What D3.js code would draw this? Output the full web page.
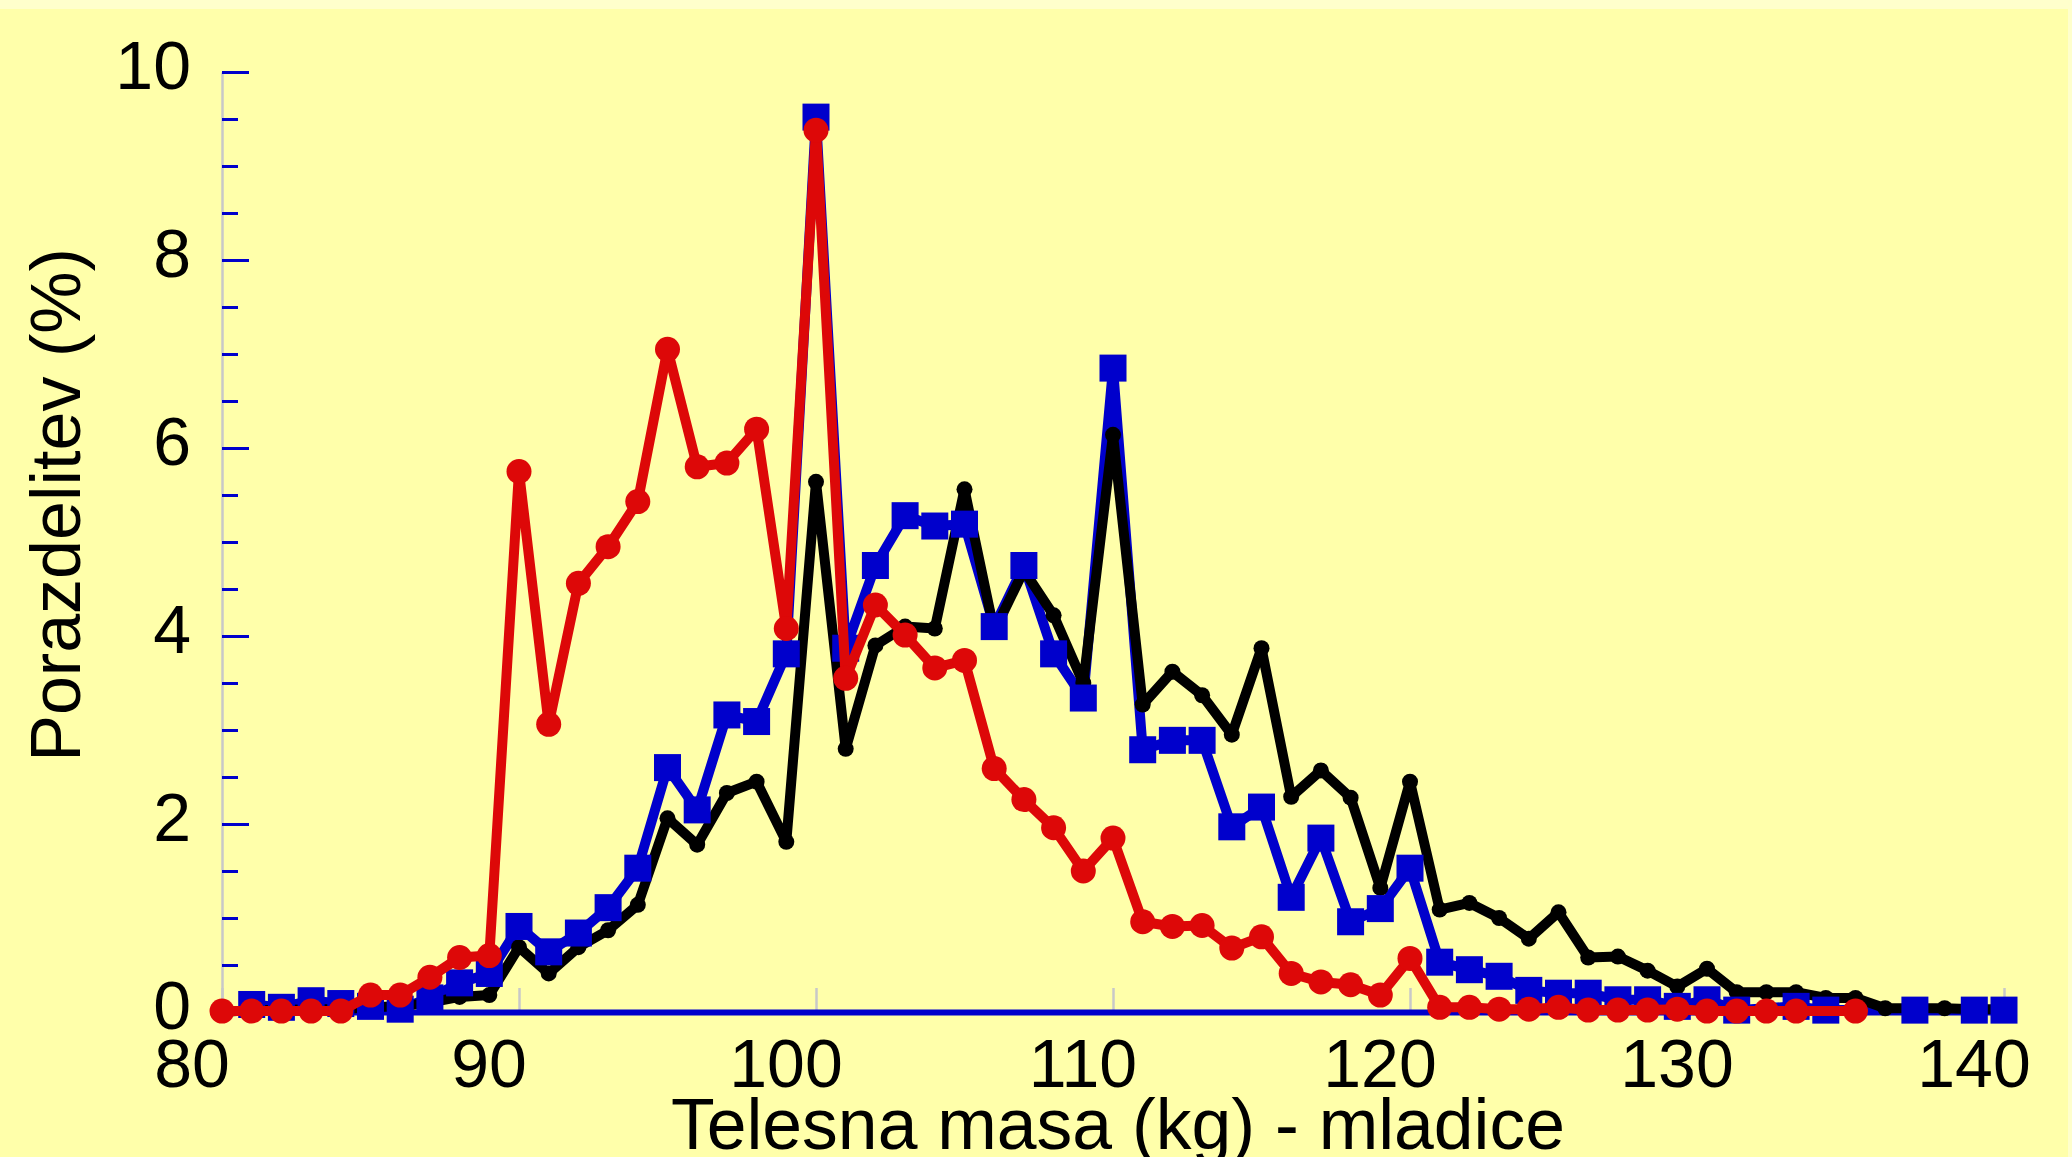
<!DOCTYPE html>
<html>
<head>
<meta charset="utf-8">
<script src="https://cdn.jsdelivr.net/npm/d3@7/dist/d3.min.js"></script>
<style>
  html, body { margin: 0; padding: 0; background: #ffffaa; overflow: hidden; }
  svg { display: block; }
  text { font-family: "Liberation Sans", Arial, Helvetica, sans-serif; fill: #000; }
</style>
</head>
<body>
<div id="chart_container"></div>
<script>
// body mass (kg) on the x axis
var masses = [80, 81, 82, 83, 84, 85, 86, 87, 88, 89,
  90, 91, 92, 93, 94, 95, 96, 97, 98, 99,
  100, 101, 102, 103, 104, 105, 106, 107, 108, 109,
  110, 111, 112, 113, 114, 115, 116, 117, 118, 119,
  120, 121, 122, 123, 124, 125, 126, 127, 128, 129,
  130, 131, 132, 133, 134, 135, 136, 137, 138, 139, 140];

// distribution (%) - black line with small dots
var blackValues = [0, 0.02, 0.02, 0.03, 0.03, 0.05, 0.06, 0.1, 0.16, 0.18,
  0.69, 0.41, 0.69, 0.87, 1.14, 2.06, 1.78, 2.33, 2.45, 1.81,
  5.64, 2.8, 3.9, 4.1, 4.08, 5.56, 4.05, 4.7, 4.22, 3.5,
  6.14, 3.27, 3.62, 3.37, 2.95, 3.87, 2.29, 2.57, 2.28, 1.32,
  2.45, 1.09, 1.16, 1.0, 0.78, 1.06, 0.58, 0.59, 0.44, 0.27,
  0.46, 0.21, 0.21, 0.21, 0.15, 0.15, 0.04, 0.04, 0.04, 0.03, 0.03];

// blue line with squares (null = no point)
var blueValues = [null, 0.08, 0.05, 0.12, 0.09, 0.06, 0.03, 0.15, 0.31, 0.41,
  0.91, 0.64, 0.84, 1.11, 1.53, 2.6, 2.15, 3.16, 3.09, 3.81,
  9.52, 3.87, 4.75, 5.28, 5.17, 5.19, 4.1, 4.75, 3.81, 3.34,
  6.85, 2.79, 2.89, 2.89, 1.97, 2.18, 1.22, 1.85, 0.96, 1.1,
  1.53, 0.53, 0.45, 0.38, 0.23, 0.2, 0.2, 0.13, 0.13, 0.06,
  0.13, 0.02, null, 0.06, 0.02, null, null, 0.02, null, 0.02, 0.02];

// red line with circles
var redValues = [0.01, 0.01, 0.01, 0.01, 0.01, 0.18, 0.18, 0.37, 0.58, 0.6,
  5.75, 3.06, 4.56, 4.95, 5.43, 7.05, 5.8, 5.84, 6.2, 4.08,
  9.38, 3.55, 4.33, 4.01, 3.66, 3.74, 2.59, 2.26, 1.96, 1.5,
  1.85, 0.96, 0.91, 0.92, 0.68, 0.8, 0.41, 0.32, 0.29, 0.18,
  0.57, 0.05, 0.05, 0.03, 0.03, 0.05, 0.02, 0.02, 0.02, 0.03,
  0.01, 0.01, 0.01, 0.01, null, 0.01, null, null, null, null, null];

var xTicks = [80, 90, 100, 110, 120, 130, 140];
var yTicks = [0, 2, 4, 6, 8, 10];
var yMinorTicks = [0.5, 1, 1.5, 2.5, 3, 3.5, 4.5, 5, 5.5, 6.5, 7, 7.5, 8.5, 9, 9.5];

var xTitle = "Telesna masa (kg) - mladice";
var yTitle = "Porazdelitev (%)";

var width = 2072, height = 1157;
var margin = {top: 72, right: 68, bottom: 145, left: 222};

var RED = "#dd0808", BLUE = "#0000cc", GRAY = "#c8c8c8";

var svg = d3.select("#chart_container")
  .append("svg")
  .attr("width", width)
  .attr("height", height);

svg.append("rect")
  .attr("width", width).attr("height", height)
  .attr("fill", "#ffffaa");
// lighter strips at the top and right edge
svg.append("rect")
  .attr("width", width).attr("height", 9)
  .attr("fill", "#ffffcc");
svg.append("rect")
  .attr("x", width - 4).attr("width", 4).attr("height", height)
  .attr("fill", "#ffffcc");

var x = d3.scaleLinear()
  .domain([80, 140])
  .range([margin.left, width - margin.right]);

var y = d3.scaleLinear()
  .domain([0, 10])
  .range([height - margin.bottom, margin.top]);

// y axis: gray line, blue ticks pointing into the plot
var yAxis = svg.append("g")
  .attr("transform", "translate(" + margin.left + ",0)")
  .call(d3.axisRight(y).tickValues(yTicks).tickSize(27).tickSizeOuter(0).tickFormat(""));
yAxis.select(".domain").attr("stroke", GRAY).attr("stroke-width", 2.5);
yAxis.selectAll(".tick line").attr("stroke", BLUE).attr("stroke-width", 3);
yAxis.selectAll(".tick").filter(function(d) { return d === 0; }).remove();

var yAxisMinor = svg.append("g")
  .attr("transform", "translate(" + margin.left + ",0)")
  .call(d3.axisRight(y).tickValues(yMinorTicks).tickSize(16).tickSizeOuter(0).tickFormat(""));
yAxisMinor.select(".domain").remove();
yAxisMinor.selectAll(".tick line").attr("stroke", BLUE).attr("stroke-width", 3);

svg.append("g")
  .selectAll("text")
  .data(yTicks)
  .enter()
  .append("text")
  .attr("x", 191)
  .attr("y", function(d) { return y(d) + 17; })
  .attr("text-anchor", "end")
  .style("font-size", "68px")
  .text(function(d) { return d; });

// x axis: gray ticks upward, blue base line
var xAxis = svg.append("g")
  .attr("transform", "translate(0," + y(0) + ")")
  .call(d3.axisTop(x).tickValues(xTicks).tickSize(24).tickSizeOuter(0).tickFormat(""));
xAxis.selectAll(".tick line").attr("stroke", GRAY).attr("stroke-width", 2.5);
xAxis.select(".domain").attr("stroke", BLUE).attr("stroke-width", 6);
xAxis.select(".domain").raise();

svg.append("g")
  .selectAll("text")
  .data(xTicks)
  .enter()
  .append("text")
  .attr("x", function(d) { return x(d) - 30; })
  .attr("y", 1087)
  .attr("text-anchor", "middle")
  .style("font-size", "68px")
  .text(function(d) { return d; });

svg.append("text")
  .attr("x", 1118)
  .attr("y", 1149)
  .attr("text-anchor", "middle")
  .style("font-size", "71.5px")
  .text(xTitle);

svg.append("text")
  .attr("transform", "translate(80,505) rotate(-90)")
  .attr("text-anchor", "middle")
  .style("font-size", "70px")
  .text(yTitle);

function points(values) {
  var out = [];
  values.forEach(function(v, i) {
    if (v !== null) out.push({m: masses[i], v: v});
  });
  return out;
}

var line = d3.line()
  .x(function(d) { return x(d.m); })
  .y(function(d) { return y(d.v); });

var blackPts = points(blackValues),
  bluePts = points(blueValues),
  redPts = points(redValues);

var plot = svg.append("g").attr("id", "d3_plot");

plot.append("path")
  .datum(bluePts)
  .attr("d", line)
  .attr("fill", "none")
  .attr("stroke", BLUE)
  .attr("stroke-width", 10)
  .attr("stroke-linejoin", "round");

plot.append("path")
  .datum(blackPts)
  .attr("d", line)
  .attr("fill", "none")
  .attr("stroke", "#000")
  .attr("stroke-width", 10)
  .attr("stroke-linejoin", "round");

plot.append("g")
  .selectAll("circle")
  .data(blackPts)
  .enter()
  .append("circle")
  .attr("cx", function(d) { return x(d.m); })
  .attr("cy", function(d) { return y(d.v); })
  .attr("r", 8)
  .attr("fill", "#000");

var sq = 27;
plot.append("g")
  .selectAll("rect")
  .data(bluePts)
  .enter()
  .append("rect")
  .attr("x", function(d) { return x(d.m) - sq / 2; })
  .attr("y", function(d) { return y(d.v) - sq / 2; })
  .attr("width", sq)
  .attr("height", sq)
  .attr("fill", BLUE);

plot.append("path")
  .datum(redPts)
  .attr("d", line)
  .attr("fill", "none")
  .attr("stroke", RED)
  .attr("stroke-width", 10)
  .attr("stroke-linejoin", "round");

plot.append("g")
  .selectAll("circle")
  .data(redPts)
  .enter()
  .append("circle")
  .attr("cx", function(d) { return x(d.m); })
  .attr("cy", function(d) { return y(d.v); })
  .attr("r", 12.5)
  .attr("fill", RED);
</script>
</body>
</html>
